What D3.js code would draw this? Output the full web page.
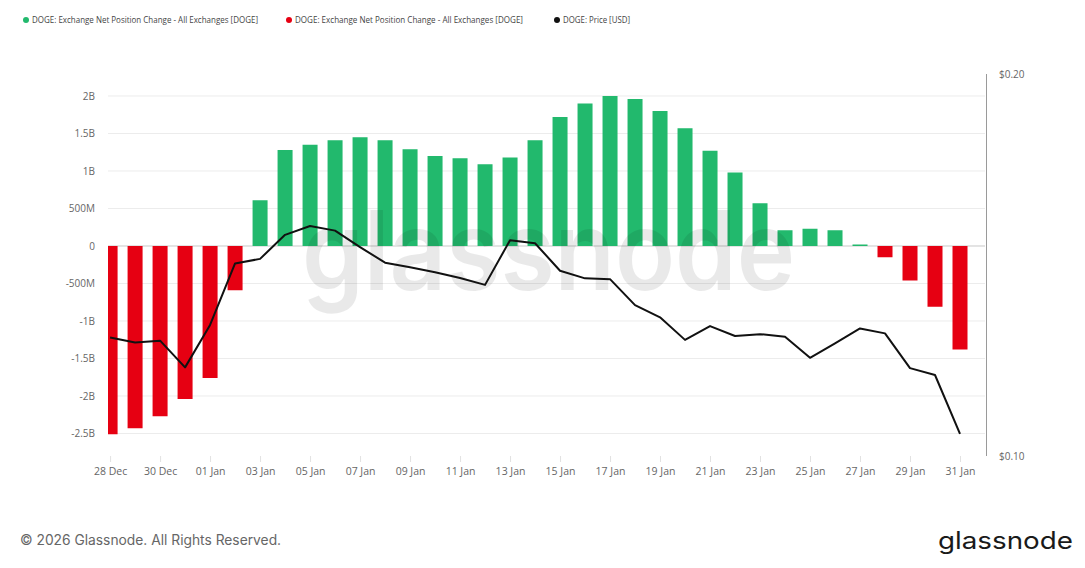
<!DOCTYPE html>
<html>
<head>
<meta charset="utf-8">
<script src="https://cdn.jsdelivr.net/npm/d3@7"></script>
<style>
  html, body { margin: 0; padding: 0; background: #fff; }
  svg { display: block; }
</style>
</head>
<body>
<svg id="chart" width="1085" height="568"></svg>
<script>
// ---- Data ----
const dates = [
  "2025-12-28","2025-12-29","2025-12-30","2025-12-31","2026-01-01","2026-01-02","2026-01-03",
  "2026-01-04","2026-01-05","2026-01-06","2026-01-07","2026-01-08","2026-01-09","2026-01-10",
  "2026-01-11","2026-01-12","2026-01-13","2026-01-14","2026-01-15","2026-01-16","2026-01-17",
  "2026-01-18","2026-01-19","2026-01-20","2026-01-21","2026-01-22","2026-01-23","2026-01-24",
  "2026-01-25","2026-01-26","2026-01-27","2026-01-28","2026-01-29","2026-01-30","2026-01-31"
];
// Exchange net position change [DOGE]
const netPositionChange = [
  -2.51e9, -2.43e9, -2.27e9, -2.04e9, -1.76e9, -0.59e9, 0.61e9,
  1.28e9, 1.35e9, 1.41e9, 1.45e9, 1.41e9, 1.29e9, 1.20e9,
  1.17e9, 1.09e9, 1.18e9, 1.41e9, 1.72e9, 1.90e9, 2.00e9,
  1.96e9, 1.80e9, 1.57e9, 1.27e9, 0.98e9, 0.57e9, 0.21e9,
  0.23e9, 0.21e9, 0.02e9, -0.15e9, -0.46e9, -0.81e9, -1.38e9
];
// DOGE price [USD]
const price = [
  0.1310, 0.1297, 0.1302, 0.1232, 0.1343, 0.1504, 0.1516,
  0.1579, 0.1602, 0.1590, 0.1547, 0.1506, 0.1494, 0.1481,
  0.1466, 0.1448, 0.1565, 0.1557, 0.1485, 0.1465, 0.1463,
  0.1395, 0.1363, 0.1304, 0.1340, 0.1314, 0.1319, 0.1312,
  0.1257, 0.1295, 0.1334, 0.1321, 0.1230, 0.1212, 0.1058
];
const leftTickValues = [2e9, 1.5e9, 1e9, 5e8, 0, -5e8, -1e9, -1.5e9, -2e9, -2.5e9];
const leftTickLabels = ["2B", "1.5B", "1B", "500M", "0", "-500M", "-1B", "-1.5B", "-2B", "-2.5B"];
const rightTickValues = [0.20, 0.10];
const rightTickLabels = ["$0.20", "$0.10"];
const legendLabels = [
  "DOGE: Exchange Net Position Change - All Exchanges [DOGE]",
  "DOGE: Exchange Net Position Change - All Exchanges [DOGE]",
  "DOGE: Price [USD]"
];
const seriesColors = ["#22b96d", "#e60012", "#111111"];

// ---- Layout ----
const plotLeft = 108, plotRight = 985, plotTop = 74, plotBottom = 456;
const parse = d3.utcParse("%Y-%m-%d");
const days = dates.map(parse);
const hour = 3600 * 1000;

const svg = d3.select("#chart");

const x = d3.scaleUtc()
  .domain([new Date(days[0].getTime() - 2 * hour), new Date(days[days.length - 1].getTime() + 24 * hour)])
  .range([plotLeft, plotRight]);
const yL = d3.scaleLinear().domain([-2.8e9, 2.2933e9]).range([plotBottom, plotTop]);
const yR = d3.scaleLinear().domain([0.10, 0.20]).range([plotBottom, plotTop]);

const font = "'Open Sans', 'Noto Sans', sans-serif";

// clip
svg.append("defs").append("clipPath").attr("id", "plotclip")
  .append("rect").attr("x", plotLeft).attr("y", plotTop - 5)
  .attr("width", plotRight - plotLeft).attr("height", plotBottom - plotTop + 10);

// gridlines
const grid = svg.append("g");
grid.selectAll("line").data(leftTickValues).join("line")
  .attr("x1", plotLeft).attr("x2", plotRight)
  .attr("y1", d => yL(d)).attr("y2", d => yL(d))
  .attr("stroke", d => d === 0 ? "#c8c8c8" : "#ececec")
  .attr("stroke-width", 1);

// left axis labels
const leftAxis = d3.axisLeft(yL).tickValues(leftTickValues)
  .tickFormat((d, i) => leftTickLabels[i]).tickSize(0).tickPadding(0);
const gL = svg.append("g").attr("transform", "translate(95,0)").call(leftAxis);
gL.select(".domain").remove();
gL.selectAll("text").attr("font-family", font).attr("font-size", "10px").attr("fill", "#666");

// right axis
const rightAxis = d3.axisRight(yR).tickValues(rightTickValues)
  .tickFormat((d, i) => rightTickLabels[i]).tickSize(0).tickPadding(13);
const gR = svg.append("g").attr("transform", `translate(${plotRight + 1},0)`).call(rightAxis);
gR.select(".domain").attr("stroke", "#9a9a9a").attr("d", `M0.5,${plotTop}V${plotBottom}`);
gR.selectAll("text").attr("font-family", font).attr("font-size", "10px").attr("fill", "#666");

// bottom axis
const tickDates = days.filter((d, i) => i % 2 === 0);
const bottomAxis = d3.axisBottom(x).tickValues(tickDates)
  .tickFormat(d3.utcFormat("%d %b")).tickSize(6).tickPadding(6);
const gB = svg.append("g").attr("transform", `translate(0,${plotBottom})`).call(bottomAxis);
gB.select(".domain").remove();
gB.selectAll(".tick line").attr("stroke", "#e2e2e2");
gB.selectAll("text").attr("font-family", font).attr("font-size", "10.5px").attr("fill", "#666");

// bars
const barW = 15;
const bars = svg.append("g").attr("clip-path", "url(#plotclip)");
bars.selectAll("rect").data(netPositionChange).join("rect")
  .attr("x", (d, i) => x(days[i]) - barW / 2)
  .attr("width", barW)
  .attr("y", d => yL(Math.max(0, d)))
  .attr("height", d => Math.abs(yL(d) - yL(0)))
  .attr("fill", d => d >= 0 ? seriesColors[0] : seriesColors[1]);

// watermark
svg.append("text")
  .attr("x", 302).attr("y", 290)
  .attr("font-family", "Inter, 'Noto Sans', sans-serif")
  .attr("font-weight", 600)
  .attr("font-size", 110)
  .attr("textLength", 493).attr("lengthAdjust", "spacingAndGlyphs")
  .attr("fill", "#000").attr("fill-opacity", 0.085)
  .text("glassnode");

// price line
const line = d3.line().x((d, i) => x(days[i])).y(d => yR(d));
svg.append("path").datum(price)
  .attr("d", line).attr("fill", "none")
  .attr("stroke", seriesColors[2]).attr("stroke-width", 2)
  .attr("stroke-linejoin", "round");

// legend
const legendX = [26, 289, 557];
const legendW = [226, 228, 67];
const lg = svg.append("g");
legendLabels.forEach((t, i) => {
  const g = lg.append("g").attr("transform", `translate(${legendX[i]},20)`);
  g.append("circle").attr("r", 3).attr("fill", seriesColors[i]);
  g.append("text").attr("x", 6).attr("dy", "0.35em")
    .attr("font-family", font).attr("font-size", "8.6px").attr("fill", "#444")
    .attr("textLength", legendW[i]).attr("lengthAdjust", "spacingAndGlyphs")
    .text(t);
});

// footer
svg.append("text").attr("x", 20).attr("y", 545)
  .attr("font-family", "Inter, 'Noto Sans', sans-serif").attr("font-size", "13.8px")
  .attr("fill", "#666").text("© 2026 Glassnode. All Rights Reserved.");
svg.append("text").attr("x", 938).attr("y", 549)
  .attr("font-family", "Inter, 'Noto Sans', sans-serif").attr("font-size", "24px")
  .attr("font-weight", 400)
  .attr("textLength", 135).attr("lengthAdjust", "spacingAndGlyphs")
  .attr("fill", "#1a1a1a").text("glassnode");
</script>
</body>
</html>
